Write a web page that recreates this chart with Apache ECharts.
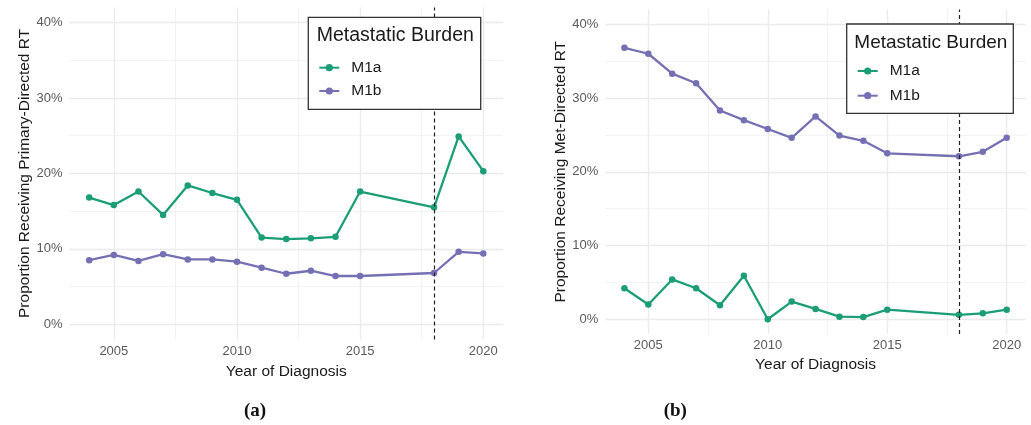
<!DOCTYPE html>
<html>
<head>
<meta charset="utf-8">
<script src="https://cdn.jsdelivr.net/npm/echarts@6/dist/echarts.min.js"></script>
<style>
  html, body { margin: 0; padding: 0; background: #fff; }
  #chart { width: 1031px; height: 425px; }
</style>
</head>
<body>
<div id="chart"></div>
<script>
// Years of diagnosis (no data for 2016 and 2017)
const years = [2004, 2005, 2006, 2007, 2008, 2009, 2010, 2011, 2012, 2013, 2014, 2015, 2018, 2019, 2020];

// Panel (a): proportion receiving primary-directed RT, %
const primaryM1a = [16.8, 15.8, 17.6, 14.5, 18.4, 17.4, 16.5, 11.5, 11.3, 11.4, 11.6, 17.6, 15.5, 24.9, 20.3];
const primaryM1b = [8.5, 9.2, 8.4, 9.3, 8.6, 8.6, 8.3, 7.5, 6.7, 7.1, 6.4, 6.4, 6.8, 9.6, 9.4];

// Panel (b): proportion receiving met-directed RT, %
const metM1a = [4.2, 2.0, 5.4, 4.2, 1.9, 5.9, 0.0, 2.4, 1.4, 0.35, 0.3, 1.3, 0.6, 0.8, 1.3];
const metM1b = [36.8, 36.0, 33.3, 32.0, 28.3, 27.0, 25.8, 24.6, 27.5, 24.9, 24.2, 22.5, 22.1, 22.7, 24.6];

// Axis breaks
const xBreaks = [2005, 2010, 2015, 2020];
const xMinorBreaks = [2007.5, 2012.5, 2017.5];
const yBreaks = [0, 10, 20, 30, 40];
const yMinorBreaks = [5, 15, 25, 35];

// Reference year marked with a dashed line
const refYear = 2018;

const seriesNames = ['M1a', 'M1b'];
const legendTitle = 'Metastatic Burden';
const xTitle = 'Year of Diagnosis';
const yTitles = ['Proportion Receiving Primary-Directed RT', 'Proportion Receiving Met-Directed RT'];
const panelTags = ['a', 'b'];

const COLORS = { M1a: '#1B9E77', M1b: '#7570B3' };
const FONT = '"Liberation Sans", Arial, sans-serif';

const pairs = (vals) => years.map((y, i) => [y, vals[i]]);

const panels = [
  { a: primaryM1a, b: primaryM1b },
  { a: metM1a, b: metM1b }
];

const grids = [
  { left: 69.5, right: 528, top: 7.4, bottom: 85.6 },
  { left: 605.3, right: 5.2, top: 9.5, bottom: 91 }
];

const majorLine = { color: '#EBEBEB', width: 1.4, type: 'solid' };
const minorLine = { color: '#EEEEEE', width: 0.7, type: 'solid' };

function gridMarks() {
  const d = [];
  xBreaks.forEach(v => d.push({ xAxis: v, lineStyle: majorLine }));
  xMinorBreaks.forEach(v => d.push({ xAxis: v, lineStyle: minorLine }));
  yBreaks.forEach(v => d.push({ yAxis: v, lineStyle: majorLine }));
  yMinorBreaks.forEach(v => d.push({ yAxis: v, lineStyle: minorLine }));
  return d;
}

const xAxes = grids.map((g, i) => ({
  type: 'value', gridIndex: i, min: 2003.2, max: 2020.8,
  axisLine: { show: false, onZero: false }, axisTick: { show: false },
  splitLine: { show: false },
  axisLabel: {
    customValues: xBreaks, formatter: v => String(v),
    color: '#5a5a5a', fontSize: 13, fontFamily: FONT, margin: i === 0 ? 6 : 5
  },
  name: xTitle, nameLocation: 'middle', nameGap: i === 0 ? 22 : 21,
  nameTextStyle: { color: '#1a1a1a', fontSize: 15.5, fontFamily: FONT }
}));

const yAxes = grids.map((g, i) => ({
  type: 'value', gridIndex: i, min: -2, max: 42,
  axisLine: { show: false, onZero: false }, axisTick: { show: false },
  splitLine: { show: false },
  axisLabel: {
    customValues: yBreaks, formatter: v => v + '%',
    color: '#5a5a5a', fontSize: 13, fontFamily: FONT, margin: 7
  },
  name: yTitles[i], nameLocation: 'middle', nameGap: i === 0 ? 34.5 : 36,
  nameTextStyle: { color: '#1a1a1a', fontSize: 15.5, fontFamily: FONT }
}));

const series = [];
panels.forEach((p, i) => {
  // background grid lines
  series.push({
    type: 'line', xAxisIndex: i, yAxisIndex: i, data: [], z: 0, silent: true,
    markLine: { silent: true, symbol: ['none', 'none'], label: { show: false }, z: 0,
      emphasis: { disabled: true }, data: gridMarks() }
  });
  [['M1a', p.a], ['M1b', p.b]].forEach(([name, vals]) => {
    series.push({
      name, type: 'line', xAxisIndex: i, yAxisIndex: i, data: pairs(vals),
      symbol: 'circle', symbolSize: 6.5, showSymbol: true,
      itemStyle: { color: COLORS[name] },
      lineStyle: { color: COLORS[name], width: 2.3 },
      emphasis: { disabled: true }, z: 3
    });
  });
  // dashed reference line
  series.push({
    type: 'line', xAxisIndex: i, yAxisIndex: i, data: [], z: 10, silent: true,
    markLine: { silent: true, symbol: ['none', 'none'], label: { show: false }, z: 10,
      emphasis: { disabled: true },
      lineStyle: { color: '#222', width: 1.2, type: [4, 3] },
      data: [{ xAxis: refYear }] }
  });
});

// legend boxes
const boxes = [
  { x: 308.3, y: 17.3, w: 172.4, h: 92, titleX: 316.7, titleY: 36, fs: 19.5, iconX: 318.3, item1: 67.7, item2: 91 },
  { x: 846.7, y: 24, w: 166.6, h: 89.3, titleX: 854.3, titleY: 42.7, fs: 19, iconX: 856.7, item1: 71, item2: 95.7 }
];

const legends = boxes.map(b => ({
  data: seriesNames, orient: 'vertical', left: b.iconX, top: b.item1 - 9,
  padding: 0, itemWidth: 20, itemHeight: 9, itemGap: (b.item2 - b.item1) - 18,
  selectedMode: false, z: 60,
  textStyle: { fontSize: 15.5, fontFamily: FONT, color: '#1a1a1a', lineHeight: 18, padding: [0, 0, 0, 7] }
}));

const titles = boxes.map(b => ({
  text: legendTitle, left: b.titleX, top: b.titleY - 11, padding: 0, z: 60,
  textStyle: { fontSize: b.fs, fontWeight: 'normal', fontFamily: FONT, color: '#1a1a1a', lineHeight: 22 }
}));

// panel tags (a), (b)
const tagX = [255, 675.3];
panelTags.forEach((t, i) => {
  titles.push({
    text: '{p|(}{b|' + t + '}{p|)}', left: tagX[i], top: 401.5, textAlign: 'center', padding: 0,
    textStyle: {
      rich: {
        p: { fontFamily: '"Liberation Serif", serif', fontSize: 19, color: '#111' },
        b: { fontFamily: '"Liberation Serif", serif', fontSize: 19, fontWeight: 'bold', color: '#111' }
      }
    }
  });
});

const graphic = boxes.map(b => ({
  type: 'rect', z: 50,
  shape: { x: b.x, y: b.y, width: b.w, height: b.h },
  style: { fill: '#fff', stroke: '#333', lineWidth: 1.3 }
}));

const chart = echarts.init(document.getElementById('chart'), null, { renderer: 'canvas' });
chart.setOption({
  animation: false,
  backgroundColor: '#fff',
  grid: grids,
  xAxis: xAxes,
  yAxis: yAxes,
  series,
  legend: legends,
  title: titles,
  graphic: { elements: graphic }
});
</script>
</body>
</html>
